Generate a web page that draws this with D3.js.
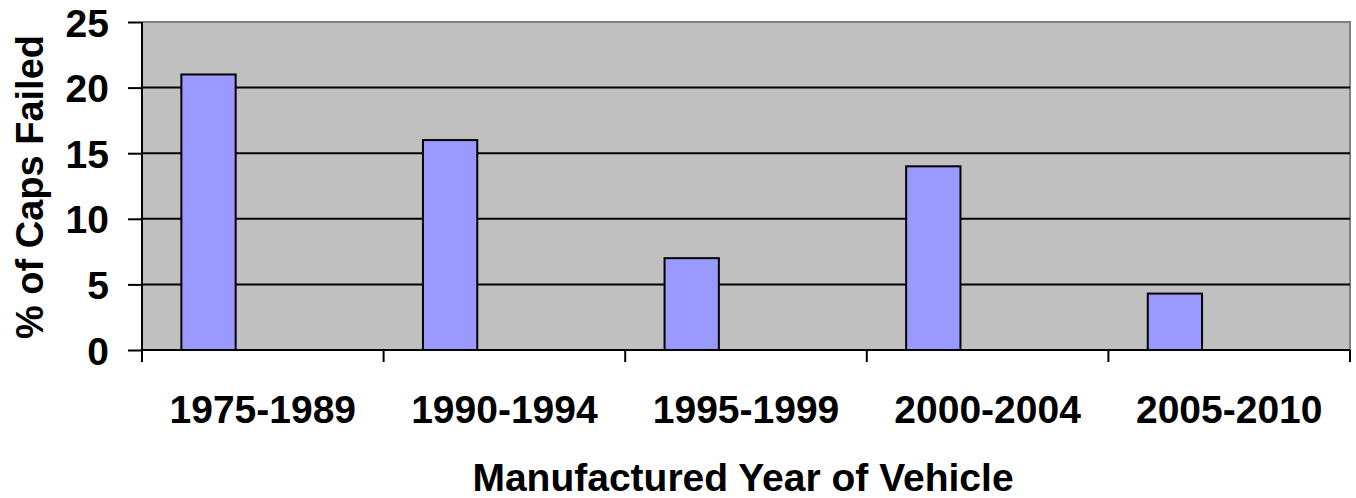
<!DOCTYPE html>
<html>
<head>
<meta charset="utf-8">
<script src="https://cdn.jsdelivr.net/npm/d3@7"></script>
<style>
  html, body { margin: 0; padding: 0; background: #fff; }
  svg text { font-family: "Liberation Sans", Arial, sans-serif; font-weight: bold; fill: #000; }
</style>
</head>
<body>
<svg id="chart" width="1356" height="498"></svg>
<script>
const categories = ["1975-1989", "1990-1994", "1995-1999", "2000-2004", "2005-2010"];
const seriesNames = ["Caps Failed", "Series 2", "Series 3"];
const failedPct = [21, 16, 7, 14, 4.3];
const yTicks = [0, 5, 10, 15, 20, 25];
const yTitle = "% of Caps Failed";
const xTitle = "Manufactured Year of Vehicle";

const svg = d3.select("#chart");
const plot = { left: 142, right: 1350, top: 22, bottom: 350 };

const x = d3.scaleBand().domain(categories).range([plot.left, plot.right]).padding(0);
const inner = d3.scaleBand().domain(seriesNames).range([0, x.bandwidth()])
  .paddingInner(0).paddingOuter(0.725);
const y = d3.scaleLinear().domain([0, 25]).range([plot.bottom, plot.top]);

// plot background
svg.append("rect")
  .attr("x", plot.left).attr("y", plot.top)
  .attr("width", plot.right - plot.left).attr("height", plot.bottom - plot.top)
  .attr("fill", "#C0C0C0");

// top/right border (gray)
svg.append("path")
  .attr("d", `M${plot.left},${plot.top}H${plot.right}V${plot.bottom}`)
  .attr("fill", "none").attr("stroke", "#808080").attr("stroke-width", 2);

// gridlines
svg.append("g").selectAll("line").data(yTicks.filter(d => d > 0 && d < 25)).join("line")
  .attr("x1", plot.left).attr("x2", plot.right)
  .attr("y1", d => y(d)).attr("y2", d => y(d))
  .attr("stroke", "#000").attr("stroke-width", 2);

// bars
svg.append("g").selectAll("rect").data(failedPct).join("rect")
  .attr("x", (d, i) => x(categories[i]) + inner(seriesNames[0]))
  .attr("y", d => y(d))
  .attr("width", inner.bandwidth())
  .attr("height", d => y(0) - y(d))
  .attr("fill", "#9999FF")
  .attr("stroke", "#000").attr("stroke-width", 2);

// y axis
const yAxis = d3.axisLeft(y).tickValues(yTicks).tickSize(14).tickPadding(19).tickFormat(d3.format("d"));
const gy = svg.append("g").attr("transform", `translate(${plot.left},0)`).call(yAxis);
gy.select(".domain").attr("stroke", "#000").attr("stroke-width", 2).attr("d", `M0,${plot.top}V${plot.bottom}`);
gy.selectAll(".tick line").attr("stroke", "#000").attr("stroke-width", 2);
gy.selectAll(".tick text").style("font-size", "39px").style("font-family", "'Liberation Sans', Arial, sans-serif")
  .style("font-weight", "bold").attr("fill", "#000").attr("dy", "0.36em");

// x axis
const xAxis = d3.axisBottom(x).tickSize(0).tickPadding(0);
const gx = svg.append("g").attr("transform", `translate(0,${plot.bottom})`).call(xAxis);
gx.select(".domain").attr("stroke", "#000").attr("stroke-width", 2).attr("d", `M${plot.left},0H${plot.right}`);
gx.selectAll(".tick text").style("font-size", "39px").style("font-family", "'Liberation Sans', Arial, sans-serif")
  .style("font-weight", "bold").attr("fill", "#000").attr("y", 73).attr("dy", 0);
// category boundary ticks
const bounds = categories.map(c => x(c)).concat([plot.right]);
gx.append("g").selectAll("line").data(bounds).join("line")
  .attr("x1", d => d).attr("x2", d => d).attr("y1", 0).attr("y2", 12)
  .attr("stroke", "#000").attr("stroke-width", 2);

// axis titles
svg.append("text")
  .attr("x", (plot.left + plot.right) / 2 - 3).attr("y", 491)
  .attr("text-anchor", "middle").style("font-size", "39px")
  .text(xTitle);

svg.append("text")
  .attr("transform", `translate(43,${(plot.top + plot.bottom) / 2 + 1}) rotate(-90)`)
  .attr("text-anchor", "middle").style("font-size", "38px")
  .text(yTitle);
</script>
</body>
</html>
